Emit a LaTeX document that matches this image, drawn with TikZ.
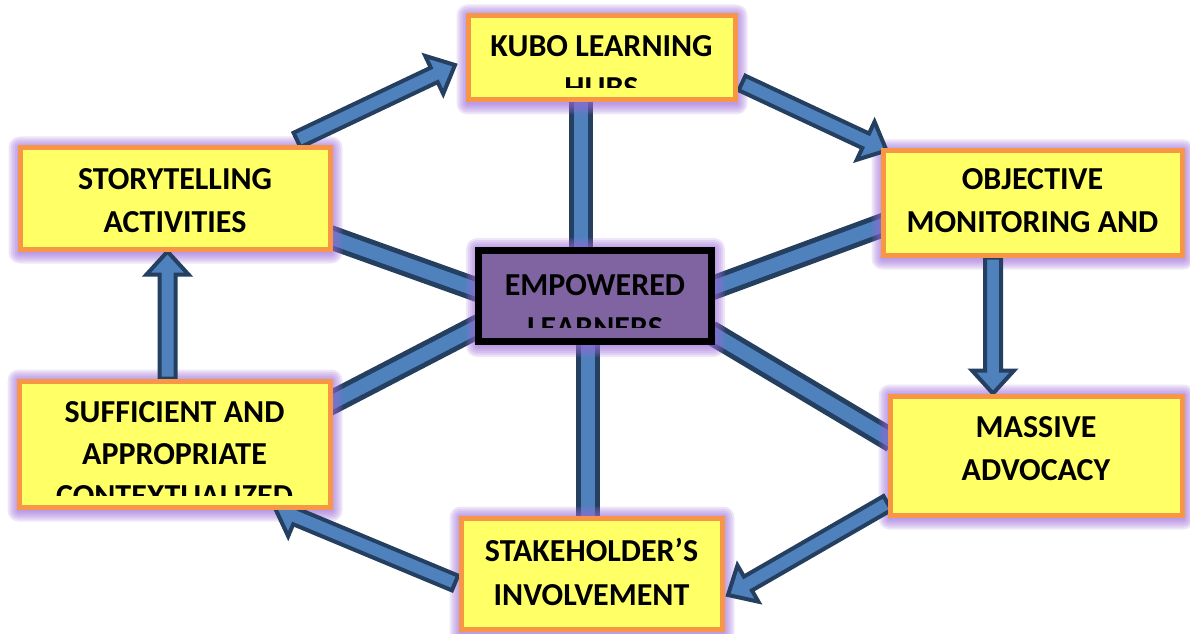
\documentclass[tikz,border=0pt]{standalone}
\usepackage{fontspec}
\setmainfont{Carlito}
\usetikzlibrary{calc}

\definecolor{boxfill}{HTML}{FFFF66}
\definecolor{boxline}{HTML}{F79646}
\definecolor{hubfill}{HTML}{8064A2}
\definecolor{barfill}{HTML}{4F81BD}
\definecolor{barline}{HTML}{243F60}
\definecolor{glowc}{HTML}{9A6AD8}

\pgfdeclarelayer{bg}
\pgfdeclarelayer{halo}
\pgfsetlayers{bg,halo,main}

\tikzset{
  ybox/.style={draw=boxline, fill=boxfill, line width=5pt, inner sep=0pt},
  hub/.style={draw=black, fill=hubfill, line width=7pt, inner sep=0pt},
  txt/.style={anchor=base, inner sep=0pt, font=\bfseries\fontsize{32}{42}\selectfont},
  spokeout/.style={draw=barline, line width=24pt, shorten <=-6pt, shorten >=-6pt},
  spokein/.style={draw=barfill, line width=14pt, shorten <=-6pt, shorten >=-6pt},
  barrow/.style={draw=barline, fill=barfill, line width=4pt, line join=miter},
}

% thick two-tone spoke between two named coordinates
\newcommand\spokebar[2]{%
  \draw[spokeout] (#1) -- (#2);
  \draw[spokein] (#1) -- (#2);}

% outlined block arrow from #1 to #2 (tip at #2)
\newcommand\blockarrow[2]{%
  \draw[barrow] let \p1=($(#2)-(#1)$), \n1={atan2(\y1,\x1)}, \n2={veclen(\x1,\y1)} in
    ($(#1)+(\n1+90:8pt)$)
    -- ($(#1)+(\n1:\n2-23pt)+(\n1+90:8pt)$)
    -- ($(#1)+(\n1:\n2-23pt)+(\n1+90:21pt)$)
    -- (#2)
    -- ($(#1)+(\n1:\n2-23pt)+(\n1-90:21pt)$)
    -- ($(#1)+(\n1:\n2-23pt)+(\n1-90:8pt)$)
    -- ($(#1)+(\n1-90:8pt)$) -- cycle;}

% soft purple halo around a box
\newcommand\halo[1]{%
  \foreach \e in {1,3,5,7,9,11}{
    \fill[glowc, opacity=0.17, rounded corners=\e pt]
      ($(#1.south west)+(-\e+2,-\e-1)$) rectangle ($(#1.north east)+(\e-1,\e-2)$);
  }}

\begin{document}
\begin{tikzpicture}[x=1pt,y=1pt]
\useasboundingbox (0,0) rectangle (1190,633);

% boxes
\node[ybox, minimum width=267, minimum height=84]  (kubo)  at (601.5,575) {};
\node[ybox, minimum width=310, minimum height=101] (story) at (175,434.5) {};
\node[ybox, minimum width=299, minimum height=104] (obj)   at (1032.5,430) {};
\node[hub,  minimum width=233, minimum height=91]  (emp)   at (595,337) {};
\node[ybox, minimum width=311, minimum height=126] (suff)  at (174.5,189) {};
\node[ybox, minimum width=292, minimum height=119] (mass)  at (1036,177.5) {};
\node[ybox, minimum width=261, minimum height=111] (stake) at (591.5,59.5) {};

% spoke end points
\coordinate (s1a) at ($(kubo.south)+(-20.5,0)$);
\coordinate (s1b) at ($(emp.north)+(-14,0)$);
\coordinate (s2a) at ($(emp.south)+(-7,0)$);
\coordinate (s2b) at ($(stake.north)+(-3.5,0)$);
\coordinate (s3a) at ($(story.east)+(0,-39.5)$);
\coordinate (s3b) at ($(emp.west)+(0,7)$);
\coordinate (s4a) at ($(emp.west)+(0,-32)$);
\coordinate (s4b) at ($(suff.east)+(0,42)$);
\coordinate (s5a) at ($(emp.east)+(0,9)$);
\coordinate (s5b) at ($(obj.west)+(0,-23)$);
\coordinate (s6a) at ($(emp.east)+(0,-39)$);
\coordinate (s6b) at ($(mass.west)+(0,17.5)$);

% cycle arrow end points
\coordinate (a1t) at ($(story.north east)+(-35.5,5.5)$);
\coordinate (a1h) at ($(kubo.west)+(-10.5,-7)$);
\coordinate (a2t) at ($(kubo.east)+(4.5,-25)$);
\coordinate (a2h) at ($(obj.north west)+(6,-2)$);
\coordinate (a3t) at ($(obj.south)+(-39.5,0)$);
\coordinate (a3h) at ($(mass.north)+(-43,0)$);
\coordinate (a4t) at ($(mass.south west)+(0,14.5)$);
\coordinate (a4h) at ($(stake.east)+(3.5,-21.5)$);
\coordinate (a5t) at ($(stake.west)+(-3.5,-9.5)$);
\coordinate (a5h) at ($(suff.south east)+(-57.5,1.5)$);
\coordinate (a6t) at ($(suff.north)+(-7,0)$);
\coordinate (a6h) at ($(story.south)+(-7.5,0)$);

\begin{pgfonlayer}{bg}
  \spokebar{s1a}{s1b}
  \spokebar{s2a}{s2b}
  \spokebar{s3a}{s3b}
  \spokebar{s4a}{s4b}
  \spokebar{s5a}{s5b}
  \spokebar{s6a}{s6b}
\end{pgfonlayer}

\begin{pgfonlayer}{halo}
  \halo{kubo}\halo{story}\halo{obj}\halo{emp}\halo{suff}\halo{mass}\halo{stake}
  \blockarrow{a1t}{a1h}
  \blockarrow{a2t}{a2h}
  \blockarrow{a3t}{a3h}
  \blockarrow{a4t}{a4h}
  \blockarrow{a5t}{a5h}
  \blockarrow{a6t}{a6h}
\end{pgfonlayer}

% box texts, cut off at the text area of each box
\begin{scope}
  \clip ($(kubo.south west)+(5,15)$) rectangle ($(kubo.north east)+(-5,-5)$);
  \node[txt] (kubo1) at ($(kubo.center)+(0,1)$) {KUBO LEARNING};
  \node[txt] (kubo2) at ($(kubo.center)+(0,-41)$) {HUBS};
\end{scope}
\begin{scope}
  \clip ($(story.south west)+(5,15)$) rectangle ($(story.north east)+(-5,-5)$);
  \node[txt] (story1) at ($(story.center)+(0,9)$) {STORYTELLING};
  \node[txt] (story2) at ($(story.center)+(0,-34)$) {ACTIVITIES};
\end{scope}
\begin{scope}
  \clip ($(obj.south west)+(5,15)$) rectangle ($(obj.north east)+(-5,-5)$);
  \node[txt] (obj1) at ($(obj.center)+(0,13.5)$) {OBJECTIVE};
  \node[txt] (obj2) at ($(obj.center)+(0,-29.5)$) {MONITORING AND};
\end{scope}
\begin{scope}
  \clip ($(emp.south west)+(7,18)$) rectangle ($(emp.north east)+(-7,-7)$);
  \node[txt] (emp1) at ($(emp.center)+(0,1)$) {EMPOWERED};
  \node[txt] (emp2) at ($(emp.center)+(0,-42)$) {LEARNERS};
\end{scope}
\begin{scope}
  \clip ($(suff.south west)+(5,14)$) rectangle ($(suff.north east)+(-5,-5)$);
  \node[txt] (suff1) at ($(suff.center)+(0,22)$) {SUFFICIENT AND};
  \node[txt] (suff2) at ($(suff.center)+(0,-20)$) {APPROPRIATE};
  \node[txt] (suff3) at ($(suff.center)+(0,-62)$) {CONTEXTUALIZED};
\end{scope}
\begin{scope}
  \clip ($(mass.south west)+(5,14)$) rectangle ($(mass.north east)+(-5,-5)$);
  \node[txt] (mass1) at ($(mass.center)+(0,18)$) {MASSIVE};
  \node[txt] (mass2) at ($(mass.center)+(0,-25)$) {ADVOCACY};
\end{scope}
\begin{scope}
  \clip ($(stake.south west)+(5,5)$) rectangle ($(stake.north east)+(-5,-5)$);
  \node[txt] (stake1) at ($(stake.center)+(0,12)$) {STAKEHOLDER’S};
  \node[txt] (stake2) at ($(stake.center)+(0,-32)$) {INVOLVEMENT};
\end{scope}
\end{tikzpicture}
\end{document}
